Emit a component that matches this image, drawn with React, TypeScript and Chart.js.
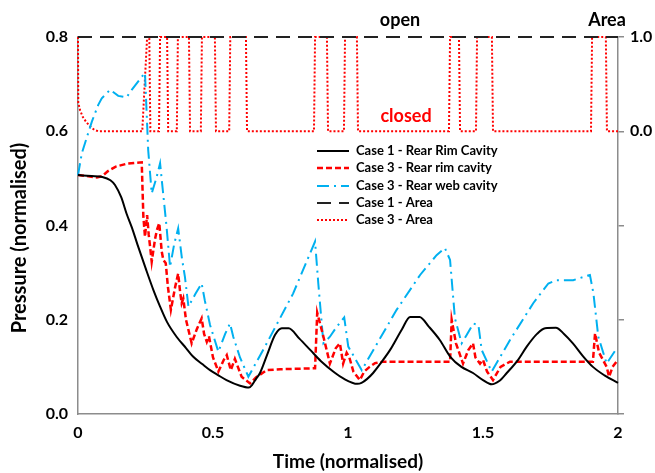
import React, { useEffect, useRef } from "react";
import { Chart, registerables } from "chart.js";

Chart.register(...registerables);

const FONT = "Lato, 'Liberation Sans', Arial, sans-serif";

// Case 1 - Rear Rim Cavity
const case1RimTime = [0, 0.05, 0.09, 0.12, 0.137, 0.16, 0.18, 0.2, 0.22, 0.25, 0.28, 0.304, 0.33, 0.365, 0.4, 0.426, 0.46, 0.489, 0.52, 0.55, 0.6, 0.633, 0.645, 0.66, 0.674, 0.7, 0.73, 0.755, 0.78, 0.82, 0.86, 0.9, 0.95, 0.981, 1.035, 1.05, 1.07, 1.093, 1.12, 1.156, 1.2, 1.23, 1.265, 1.3, 1.34, 1.378, 1.42, 1.463, 1.5, 1.532, 1.56, 1.588, 1.63, 1.662, 1.7, 1.73, 1.77, 1.8, 1.833, 1.87, 1.907, 1.95, 2.0];
const case1RimValues = [0.507, 0.505, 0.503, 0.496, 0.486, 0.46, 0.425, 0.395, 0.36, 0.31, 0.262, 0.228, 0.195, 0.164, 0.14, 0.122, 0.106, 0.093, 0.082, 0.072, 0.06, 0.056, 0.062, 0.075, 0.087, 0.125, 0.168, 0.182, 0.182, 0.16, 0.136, 0.112, 0.088, 0.076, 0.064, 0.066, 0.074, 0.087, 0.107, 0.136, 0.18, 0.206, 0.206, 0.185, 0.157, 0.122, 0.1, 0.087, 0.072, 0.063, 0.07, 0.087, 0.115, 0.143, 0.17, 0.182, 0.183, 0.17, 0.15, 0.123, 0.1, 0.082, 0.066];

// Case 3 - Rear rim cavity
const case3RimTime = [0, 0.03, 0.07, 0.09, 0.11, 0.14, 0.18, 0.236, 0.242, 0.248, 0.256, 0.262, 0.268, 0.273, 0.285, 0.292, 0.301, 0.31, 0.316, 0.325, 0.333, 0.344, 0.36, 0.371, 0.378, 0.384, 0.39, 0.4, 0.421, 0.44, 0.458, 0.467, 0.477, 0.485, 0.5, 0.52, 0.54, 0.551, 0.566, 0.581, 0.606, 0.637, 0.66, 0.699, 0.75, 0.878, 0.886, 0.909, 0.933, 0.955, 0.97, 0.982, 0.995, 1.005, 1.02, 1.044, 1.06, 1.08, 1.1, 1.13, 1.378, 1.384, 1.4, 1.426, 1.445, 1.463, 1.472, 1.489, 1.5, 1.515, 1.537, 1.565, 1.6, 1.907, 1.915, 1.93, 1.958, 1.967, 1.98, 2.0];
const case3RimValues = [0.507, 0.505, 0.502, 0.505, 0.515, 0.525, 0.531, 0.534, 0.42, 0.376, 0.422, 0.38, 0.35, 0.323, 0.37, 0.39, 0.405, 0.345, 0.327, 0.32, 0.27, 0.221, 0.27, 0.298, 0.26, 0.235, 0.245, 0.2, 0.15, 0.18, 0.203, 0.17, 0.153, 0.165, 0.12, 0.09, 0.115, 0.125, 0.093, 0.117, 0.079, 0.065, 0.078, 0.093, 0.095, 0.097, 0.215, 0.164, 0.107, 0.14, 0.15, 0.107, 0.13, 0.12, 0.09, 0.072, 0.09, 0.1, 0.108, 0.111, 0.111, 0.2, 0.15, 0.107, 0.135, 0.15, 0.12, 0.107, 0.115, 0.09, 0.072, 0.1, 0.111, 0.111, 0.171, 0.13, 0.1, 0.079, 0.1, 0.115];

// Case 3 - Rear web cavity
const case3WebTime = [0, 0.014, 0.051, 0.075, 0.088, 0.119, 0.149, 0.18, 0.199, 0.248, 0.26, 0.273, 0.29, 0.304, 0.315, 0.328, 0.341, 0.356, 0.371, 0.385, 0.396, 0.409, 0.435, 0.458, 0.47, 0.489, 0.52, 0.545, 0.563, 0.575, 0.6, 0.631, 0.699, 0.797, 0.878, 0.89, 0.909, 0.933, 0.958, 0.986, 1.001, 1.051, 1.094, 1.18, 1.267, 1.328, 1.359, 1.378, 1.396, 1.421, 1.44, 1.464, 1.483, 1.495, 1.532, 1.6, 1.686, 1.742, 1.773, 1.834, 1.896, 1.909, 1.927, 1.958, 1.995];
const case3WebValues = [0.507, 0.553, 0.62, 0.656, 0.67, 0.688, 0.675, 0.672, 0.688, 0.724, 0.56, 0.468, 0.5, 0.532, 0.47, 0.397, 0.312, 0.36, 0.394, 0.33, 0.291, 0.228, 0.255, 0.277, 0.24, 0.189, 0.132, 0.17, 0.192, 0.164, 0.12, 0.079, 0.15, 0.256, 0.366, 0.277, 0.15, 0.164, 0.185, 0.205, 0.143, 0.093, 0.136, 0.221, 0.295, 0.337, 0.352, 0.327, 0.203, 0.15, 0.168, 0.192, 0.189, 0.136, 0.09, 0.157, 0.235, 0.277, 0.284, 0.284, 0.295, 0.256, 0.164, 0.107, 0.139];

// Case 1 - Area (right axis)
const case1AreaTime = [0, 2];
const case1AreaValues = [1, 1];

// Case 3 - Area (right axis)
const case3AreaTime = [0, 0.001, 0.008, 0.018, 0.03, 0.045, 0.06, 0.075, 0.238, 0.256, 0.264, 0.268, 0.3, 0.304, 0.33, 0.334, 0.366, 0.37, 0.411, 0.415, 0.455, 0.459, 0.507, 0.511, 0.56, 0.564, 0.622, 0.626, 0.874, 0.878, 0.922, 0.926, 0.985, 0.989, 1.033, 1.037, 1.374, 1.378, 1.411, 1.415, 1.474, 1.478, 1.533, 1.537, 1.9, 1.904, 1.955, 1.959, 2.0];
const case3AreaValues = [1, 0.3, 0.22, 0.15, 0.1, 0.05, 0.015, 0, 0, 1, 1, 0, 0, 1, 1, 0, 0, 1, 1, 0, 0, 1, 1, 0, 0, 1, 1, 0, 0, 1, 1, 0, 0, 1, 1, 0, 0, 1, 1, 0, 0, 1, 1, 0, 0, 1, 1, 0, 0];

const xTicks = [0, 0.5, 1, 1.5, 2];
const xTickLabels = ["0", "0.5", "1", "1.5", "2"];
const seriesNames = ["Case 1 - Rear Rim Cavity", "Case 3 - Rear rim cavity", "Case 3 - Rear web cavity", "Case 1 - Area", "Case 3 - Area"];

const RED = "#ff0000";
const BLUE = "#00b0f0";
const AXIS = "#8c8c8c";

function pairs(t: number[], v: number[]) {
  return t.map((x, i) => ({ x, y: v[i] }));
}

const styles = [
  { color: "#000000", width: 2, dash: [] as number[] },
  { color: RED, width: 2.5, dash: [6, 3] },
  { color: BLUE, width: 2, dash: [12, 5, 2, 5] },
  { color: "#222222", width: 2, dash: [14, 8] },
  { color: RED, width: 2, dash: [2, 2] },
];

const overlayPlugin = {
  id: "overlay",
  afterDraw(chart: any) {
    const ctx = chart.ctx as CanvasRenderingContext2D;
    ctx.save();
    // axis titles
    ctx.fillStyle = "#000";
    ctx.font = `bold 19px ${FONT}`;
    ctx.textAlign = "center";
    ctx.textBaseline = "middle";
    ctx.fillText("Time (normalised)", 348, 462);
    ctx.save();
    ctx.translate(20, 238);
    ctx.rotate(-Math.PI / 2);
    ctx.font = `bold 20px ${FONT}`;
    ctx.fillText("Pressure (normalised)", 0, 0);
    ctx.restore();
    // annotations
    ctx.font = `bold 18px ${FONT}`;
    ctx.fillText("open", 400, 20);
    ctx.fillText("Area", 607, 20);
    ctx.fillStyle = RED;
    ctx.font = `bold 18px ${FONT}`;
    ctx.fillText("closed", 406, 116);
    // legend
    const x0 = 317, x1 = 349, tx = 356;
    const rows = [151, 168, 186, 203, 220];
    ctx.textAlign = "left";
    ctx.font = `bold 13px ${FONT}`;
    seriesNames.forEach((name, i) => {
      const s = styles[i];
      const y = rows[i];
      ctx.strokeStyle = s.color;
      ctx.lineWidth = s.width;
      ctx.setLineDash(s.dash);
      ctx.beginPath();
      ctx.moveTo(x0, y);
      ctx.lineTo(x1, y);
      ctx.stroke();
      ctx.setLineDash([]);
      ctx.fillStyle = "#000";
      ctx.fillText(name, tx, y);
    });
    ctx.restore();
  },
};

export default function App() {
  const ref = useRef<HTMLCanvasElement | null>(null);
  useEffect(() => {
    document.body.style.margin = "0";
    const canvas = ref.current;
    if (!canvas) return;
    const datasets = [
      { label: seriesNames[0], data: pairs(case1RimTime, case1RimValues), yAxisID: "y", cubicInterpolationMode: "monotone" as const },
      { label: seriesNames[1], data: pairs(case3RimTime, case3RimValues), yAxisID: "y" },
      { label: seriesNames[2], data: pairs(case3WebTime, case3WebValues), yAxisID: "y" },
      { label: seriesNames[3], data: pairs(case1AreaTime, case1AreaValues), yAxisID: "y2" },
      { label: seriesNames[4], data: pairs(case3AreaTime, case3AreaValues), yAxisID: "y2" },
    ].map((d, i) => ({
      ...d,
      borderColor: styles[i].color,
      borderWidth: styles[i].width,
      borderDash: styles[i].dash,
      pointRadius: 0,
      fill: false,
      tension: 0,
      clip: false as any,
    }));
    const tickFont = { family: FONT, size: 16, weight: "bold" as const };
    const chart = new Chart(canvas, {
      type: "line",
      data: { datasets },
      plugins: [overlayPlugin],
      options: {
        animation: false,
        responsive: true,
        maintainAspectRatio: false,
        layout: { padding: { top: 37, left: 0, right: 0, bottom: 0 } },
        plugins: { legend: { display: false }, tooltip: { enabled: false } },
        scales: {
          x: {
            type: "linear",
            min: 0,
            max: 2,
            afterBuildTicks: (s: any) => { s.ticks = xTicks.map((v) => ({ value: v })); },
            ticks: {
              font: tickFont, color: "#000", padding: 9, maxRotation: 0, autoSkip: false,
              callback: (v: any) => { const i = xTicks.indexOf(Number(v)); return i >= 0 ? xTickLabels[i] : String(v); },
            },
            grid: { display: false, drawTicks: false },
            border: { display: true, color: AXIS, width: 1.5 },
            afterFit: (s: any) => { s.height = 59; },
          },
          y: {
            position: "left",
            min: 0,
            max: 0.8,
            ticks: { stepSize: 0.2, font: tickFont, color: "#000", padding: 10, callback: (v: any) => Number(v).toFixed(1) },
            grid: { display: false, drawTicks: false },
            border: { display: true, color: AXIS, width: 1.5 },
            afterFit: (s: any) => { s.width = 78; },
          },
          y2: {
            position: "right",
            min: -3,
            max: 1,
            ticks: { stepSize: 1, font: tickFont, color: "#000", padding: 6, callback: (v: any) => (Number(v) >= 0 ? Number(v).toFixed(1) : "") },
            grid: { drawOnChartArea: false, drawTicks: true, tickLength: 6, color: AXIS, lineWidth: 1.5 },
            border: { display: true, color: AXIS, width: 1.5 },
            afterFit: (s: any) => { s.width = 37; },
          },
        },
      } as any,
    });
    return () => chart.destroy();
  }, []);
  return (
    <div style={{ position: "relative", width: 655, height: 473 }}>
      <canvas ref={ref} />
    </div>
  );
}
